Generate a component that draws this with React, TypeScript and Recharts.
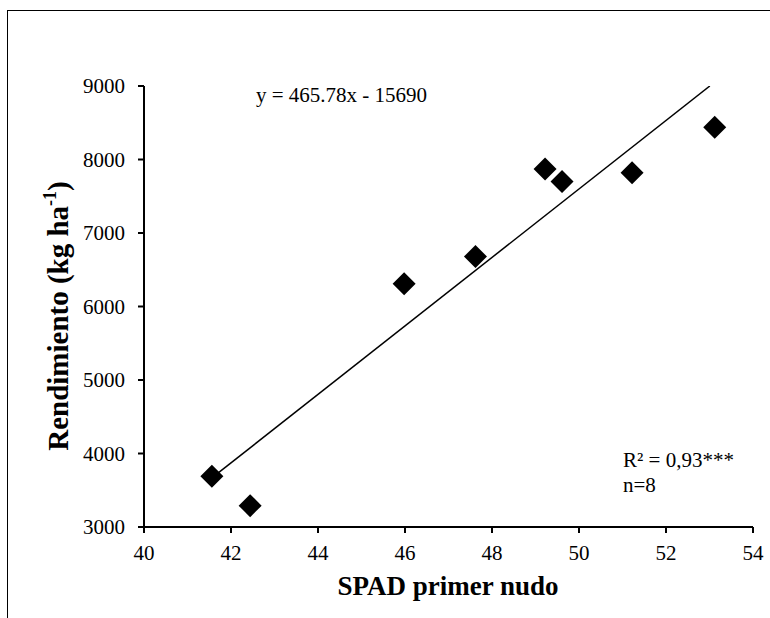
import { Customized, Scatter, ScatterChart, XAxis, YAxis } from 'recharts'

const spad = [41.56, 42.44, 45.98, 47.62, 49.22, 49.61, 51.22, 53.12]
const rendimiento = [3690, 3290, 6310, 6680, 7870, 7700, 7820, 8440]
const xTicks = [40, 42, 44, 46, 48, 50, 52, 54]
const yTicks = [3000, 4000, 5000, 6000, 7000, 8000, 9000]

// regression shown on the chart: y = 465.78x - 15690
const slope = 465.78
const intercept = -15690
const yMax = 9000

const font = '"Liberation Serif", "Times New Roman", serif'

const points = spad.map((x, i) => ({ x, y: rendimiento[i] }))

const xStart = Math.min(...spad)
const xEnd = Math.min(Math.max(...spad), (yMax - intercept) / slope)
const trend = [
  { x: xStart, y: slope * xStart + intercept },
  { x: xEnd, y: slope * xEnd + intercept },
]

function Diamond(props: any) {
  const { cx, cy } = props
  const r = 11.5
  return (
    <polygon
      points={`${cx},${cy - r} ${cx + r},${cy} ${cx},${cy + r} ${cx - r},${cy}`}
      fill="#000"
    />
  )
}

function XTick(props: any) {
  const { x, y, payload } = props
  return (
    <text x={x} y={y + 15} textAnchor="middle" fontFamily={font} fontSize={21} fill="#000">
      {payload.value}
    </text>
  )
}

function YTick(props: any) {
  const { x, y, payload } = props
  return (
    <text x={x} y={y + 7} textAnchor="end" fontFamily={font} fontSize={21} fill="#000">
      {payload.value}
    </text>
  )
}

function Annotations() {
  return (
    <g fontFamily={font} fill="#000">
      <text x={256} y={102} fontSize={21}>
        y = 465.78x - 15690
      </text>
      <text x={623} y={467} fontSize={21}>
        R² = 0,93***
      </text>
      <text x={623} y={492} fontSize={21}>
        n=8
      </text>
      <text
        x={448}
        y={595}
        fontSize={27}
        fontWeight="bold"
        textAnchor="middle"
      >
        SPAD primer nudo
      </text>
      <text
        x={68}
        y={316}
        fontSize={29}
        fontWeight="bold"
        textAnchor="middle"
        transform="rotate(-90, 68, 316)"
      >
        Rendimiento (kg ha
        <tspan fontSize={18} dy={-12}>
          -1
        </tspan>
        <tspan dy={12}>)</tspan>
      </text>
    </g>
  )
}

export default function App() {
  return (
    <div
      style={{
        position: 'absolute',
        left: 0,
        top: 0,
        width: 770,
        height: 618,
        overflow: 'hidden',
        background: '#fff',
      }}
    >
      <div
        style={{
          position: 'absolute',
          left: 7,
          top: 10,
          width: 800,
          height: 700,
          border: '1px solid #000',
        }}
      />
      <div style={{ position: 'absolute', left: 0, top: 0 }}>
        <ScatterChart
          width={770}
          height={618}
          margin={{ top: 86, right: 17, bottom: 0, left: 0 }}
        >
          <XAxis
            type="number"
            dataKey="x"
            domain={[40, 54]}
            ticks={xTicks}
            height={91}
            tick={XTick}
            tickSize={6}
            tickMargin={12}
            stroke="#000"
            strokeWidth={2}
            allowDataOverflow
          />
          <YAxis
            type="number"
            dataKey="y"
            domain={[3000, 9000]}
            ticks={yTicks}
            width={144}
            tick={YTick}
            tickSize={6}
            tickMargin={13}
            stroke="#000"
            strokeWidth={2}
            allowDataOverflow
          />
          <Scatter
            data={trend}
            line={{ stroke: '#000', strokeWidth: 1.5 }}
            lineType="joint"
            shape={() => <g />}
            isAnimationActive={false}
          />
          <Scatter
            data={points}
            shape={Diamond}
            isAnimationActive={false}
          />
          <Customized component={Annotations} />
        </ScatterChart>
      </div>
    </div>
  )
}
